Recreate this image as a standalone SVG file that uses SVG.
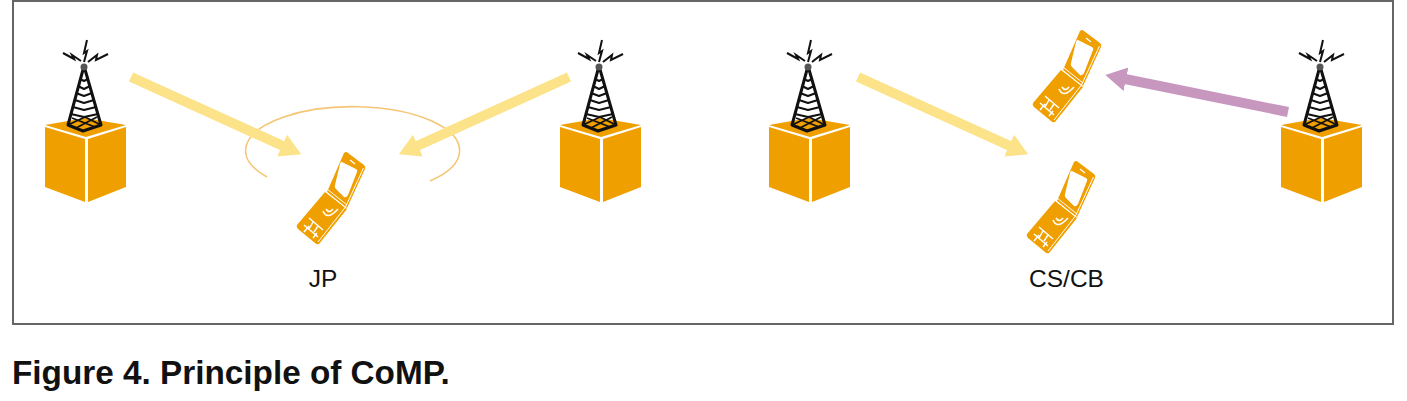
<svg xmlns="http://www.w3.org/2000/svg" xmlns:xlink="http://www.w3.org/1999/xlink" width="1407" height="401" viewBox="0 0 1407 401">
<style>
.lbl{font-family:"Liberation Sans",Arial,sans-serif;font-size:24.5px;fill:#111;text-anchor:middle}
.cap{font-family:"Liberation Sans",Arial,sans-serif;font-size:33.3px;font-weight:bold;fill:#111}
.y{stroke:#FCE38A;stroke-width:10;fill:none}
.p{stroke:#C897C0;stroke-width:10;fill:none}
.o{fill:#F09F00}
.t{stroke:#111;fill:none;stroke-linejoin:round}
.w{stroke:#fff;fill:none}
</style>
<defs>
<marker id="hy" markerUnits="userSpaceOnUse" markerWidth="24" markerHeight="26" refX="1" refY="13" orient="auto"><path d="M0 1L21 13L0 25z" fill="#FCE38A"/></marker>
<marker id="hp" markerUnits="userSpaceOnUse" markerWidth="24" markerHeight="26" refX="1" refY="13" orient="auto"><path d="M0 1L21 13L0 25z" fill="#C897C0"/></marker>
<g id="station">
<path class="o" d="M85 118L126 125L86 137L45 125z"/>
<path class="o" d="M45 127L85 139V202L45 187z"/>
<path class="o" d="M88 139L126 127V187L88 202z"/>
<g class="t">
<path d="M84 66L68 125L83 131L101 125z" stroke-width="3"/>
<path d="M68 125L85 117L101 125M72 118L95 127M97 117L76 128" stroke-width="1.800"/>
<path d="M80 79L84 81L88 79M78 86L84 89L90 86M76 93L84 96L92 93M75 100L84 103L94 100M73 107L84 110L96 107M71 114L84 117L98 114" stroke-width="2"/>
</g>
<path d="M84 62L87 51L84 53L87 40" stroke="#111" stroke-width="2" fill="none"/>
<path d="M81 61L72 55L74 59L63 53" stroke="#111" stroke-width="2" fill="none"/>
<path d="M88 62L97 55L96 60L108 54" stroke="#111" stroke-width="2" fill="none"/>
<circle cx="84" cy="67" r="3.500" fill="#555"/>
</g>
<g id="phone">
<path class="o" d="M297 225L325 192L347 209L319 244Q317 245 315 243L298 229Q296 227 297 225z"/>
<path class="o" d="M344 153Q346 151 348 153L364 165Q366 167 365 169L347 208L327 192z"/>
<path d="M342 162L356 169Q358 170 357 172L348 195Q346 198 344 197L336 189Q334 187 335 185L340 164Q341 161 342 162z" fill="#fff"/>
<path class="w" stroke-width="1" d="M325 191L346 208M327 189L347 205M363.500 168L345.500 207L318 242"/>
<path class="w" stroke-width="1.200" d="M350 160L355 164"/>
<path class="w" stroke-width="1.500" d="M304 225L318 237M309 218L323 230M309 226L304 232M313 222L309 229M317 233L313 238M318 226L314 232"/>
<path class="w" stroke-width="1.600" d="M323 211Q327 221 338 209M326 209Q329 214 333 209"/>
</g>
</defs>
<rect x="13" y="1" width="1380" height="323" fill="#fff" stroke="#666" stroke-width="2"/>
<g id="connectors">
<path d="M267 177A107 44 0 1 1 430 181" fill="none" stroke="#F6C677" stroke-width="1.600"/>
<path class="y" d="M131 77L283 146" marker-end="url(#hy)"/>
<path class="y" d="M569 77L417 146" marker-end="url(#hy)"/>
<path class="y" d="M858 77L1010 146" marker-end="url(#hy)"/>
<path class="p" d="M1288 112L1125 79" marker-end="url(#hp)"/>
</g>
<g id="bs1"><use xlink:href="#station" href="#station"/></g>
<g id="bs2"><use xlink:href="#station" href="#station" x="515"/></g>
<g id="bs3"><use xlink:href="#station" href="#station" x="724"/></g>
<g id="bs4"><use xlink:href="#station" href="#station" x="1236"/></g>
<g id="ue1"><use xlink:href="#phone" href="#phone"/></g>
<g id="ue2"><use xlink:href="#phone" href="#phone" x="736" y="-122"/></g>
<g id="ue3"><use xlink:href="#phone" href="#phone" x="730" y="9"/></g>
<text class="lbl" x="323" y="287">JP</text>
<text class="lbl" x="1066.500" y="287">CS/CB</text>
<text class="cap" x="12" y="384">Figure 4. Principle of CoMP.</text>
</svg>
